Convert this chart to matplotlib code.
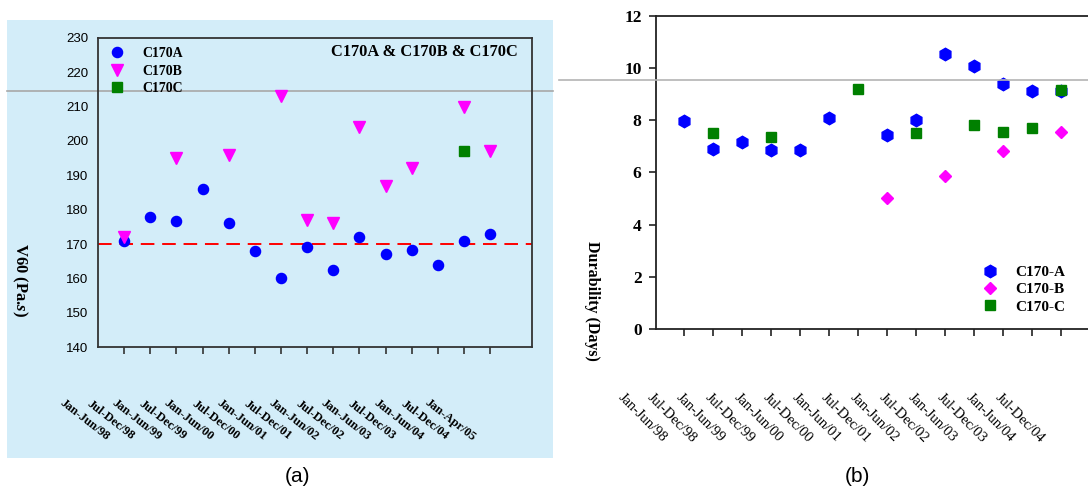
import numpy as np
import matplotlib
matplotlib.use("Agg")
import matplotlib.pyplot as plt
from matplotlib.patches import Rectangle
from matplotlib.lines import Line2D

# ------------------------------------------------------------------
# data, panel (a): V60 viscosity per semester
# ------------------------------------------------------------------
periods_a = ['Jan-Jun/98', 'Jul-Dec/98', 'Jan-Jun/99', 'Jul-Dec/99', 'Jan-Jun/00',
             'Jul-Dec/00', 'Jan-Jun/01', 'Jul-Dec/01', 'Jan-Jun/02', 'Jul-Dec/02',
             'Jan-Jun/03', 'Jul-Dec/03', 'Jan-Jun/04', 'Jul-Dec/04', 'Jan-Apr/05']
v60_A = [171, 178, 176.8, 186, 176, 168, 160, 169, 162.5, 172, 167, 168.2, 163.8, 171, 172.8]
v60_B = [172, None, 195, None, 196, None, 213, 177, 176, 204, 187, 192, None, 210, 197]
v60_C = [None] * 13 + [197, None]
v60_spec = 170

# ------------------------------------------------------------------
# data, panel (b): durability in days
# ------------------------------------------------------------------
periods_b = ['Jan-Jun/98', 'Jul-Dec/98', 'Jan-Jun/99', 'Jul-Dec/99', 'Jan-Jun/00',
             'Jul-Dec/00', 'Jan-Jun/01', 'Jul-Dec/01', 'Jan-Jun/02', 'Jul-Dec/02',
             'Jan-Jun/03', 'Jul-Dec/03', 'Jan-Jun/04', 'Jul-Dec/04']
dur_A = [7.95, 6.9, 7.15, 6.85, 6.87, 8.1, None, 7.42, 8.0, 10.52, 10.07, 9.4, 9.13, 9.1]
dur_B = [None, None, None, None, None, None, None, 5.0, None, 5.87, None, 6.83, None, 7.55]
dur_C = [None, 7.5, None, 7.35, None, None, 9.18, None, 7.5, None, 7.82, 7.55, 7.7, 9.17]


def to_arr(vals):
    return np.array([np.nan if v is None else v for v in vals], dtype=float)


serif = 'Liberation Serif'
sans = 'Liberation Sans'
plt.rcParams['mathtext.fontset'] = 'custom'
plt.rcParams['mathtext.it'] = 'Liberation Serif:italic:bold'
plt.rcParams['mathtext.rm'] = 'Liberation Serif:bold'

fig = plt.figure(figsize=(10.88, 4.9), dpi=100)

# light blue backdrop behind panel (a)
fig.patches.append(Rectangle((7 / 1088, 1 - 458 / 490), 546 / 1088, 438 / 490,
                             transform=fig.transFigure, facecolor='#d3edf9',
                             edgecolor='none', zorder=-10))

# ------------------------------------------------------------------
# panel (a)
# ------------------------------------------------------------------
axa = fig.add_axes([98 / 1088, 1 - 347 / 490, 434 / 1088, 309 / 490])
axa.set_facecolor('none')
axa.set_zorder(2)
xa = np.arange(1, len(periods_a) + 1)

axa.plot(xa, to_arr(v60_A), 'o', color='#0000ff', markersize=7.3, linestyle='none', label='C170A')
axa.plot(xa, to_arr(v60_B), 'v', color='#ff00ff', markersize=8.5, linestyle='none', label='C170B')
axa.plot(xa, to_arr(v60_C), 's', color='#008000', markersize=7.5, linestyle='none', label='C170C')
axa.axhline(v60_spec, color='#ff0000', linestyle=(0, (7, 4)), lw=1.4, zorder=1)

axa.set_xlim(0, 16.6)
axa.set_ylim(140, 230)
axa.set_yticks(np.arange(140, 231, 10))
axa.set_xticks(xa)
axa.set_xticklabels([])
axa.tick_params(axis='x', direction='out', length=5, width=1.2, color='#333333')
axa.tick_params(axis='y', length=0, pad=7, labelsize=9.5)
for lab in axa.get_yticklabels():
    lab.set_fontfamily(sans)
for sp in axa.spines.values():
    sp.set_color('#333333')
    sp.set_linewidth(1.3)

for i, lab in enumerate(periods_a):
    axa.annotate(lab, xy=(xa[i], 0), xycoords=('data', 'axes fraction'),
                 xytext=(-28.5, -52.5), textcoords='offset points',
                 rotation=-38, rotation_mode='anchor', ha='center', va='center',
                 fontsize=9, fontweight='bold', family=serif)

axa.text(0.967, 0.955, 'C170A & C170B & C170C', transform=axa.transAxes,
         ha='right', va='center', fontsize=11.8, fontweight='bold', family=serif)

axa.legend(loc='upper left', bbox_to_anchor=(0.02, 0.971), frameon=False,
           borderpad=0, borderaxespad=0, handlelength=1.5, handletextpad=1.1,
           labelspacing=0.33, numpoints=1,
           prop={'family': serif, 'weight': 'bold', 'size': 10})

fig.text(20 / 1088, 1 - 280 / 490, 'V60 (Pa.$\\it{s}$)', rotation=270,
         ha='center', va='center', fontsize=12, fontweight='bold', family=serif)

# ------------------------------------------------------------------
# panel (b)
# ------------------------------------------------------------------
axb = fig.add_axes([655.5 / 1088, 1 - 329 / 490, 434 / 1088, 313.3 / 490])
axb.set_facecolor('none')
xb = np.arange(1, len(periods_b) + 1)

axb.plot(xb, to_arr(dur_A), 'h', color='#0000ff', markersize=9, linestyle='none', label='C170-A')
axb.plot(xb, to_arr(dur_B), 'D', color='#ff00ff', markersize=6.5, linestyle='none', label='C170-B')
axb.plot(xb, to_arr(dur_C), 's', color='#008000', markersize=7.5, linestyle='none', label='C170-C')

axb.set_xlim(0, 14.98)
axb.set_ylim(0, 12)
axb.set_yticks(np.arange(0, 13, 2))
axb.set_xticks(xb)
axb.set_xticklabels([])
axb.tick_params(axis='both', direction='out', length=5, width=1.2, color='#222222')
axb.tick_params(axis='y', pad=5, labelsize=12.5)
for lab in axb.get_yticklabels():
    lab.set_fontfamily(serif)
    lab.set_fontweight('bold')
axb.spines['right'].set_visible(False)
for sp in ['left', 'top', 'bottom']:
    axb.spines[sp].set_color('#222222')
    axb.spines[sp].set_linewidth(1.3)

for i, lab in enumerate(periods_b):
    axb.annotate(lab, xy=(xb[i], 0), xycoords=('data', 'axes fraction'),
                 xytext=(-30, -64), textcoords='offset points',
                 rotation=-45, rotation_mode='anchor', ha='center', va='center',
                 fontsize=10.5, family=serif)

axb.legend(loc='upper left', bbox_to_anchor=(0.745, 0.203), frameon=False,
           borderpad=0, borderaxespad=0, handlelength=1.5, handletextpad=0.88,
           labelspacing=0.24, numpoints=1,
           prop={'family': serif, 'weight': 'bold', 'size': 11})

fig.text(592 / 1088, 1 - 301 / 490, 'Durability (Days)', rotation=270,
         ha='center', va='center', fontsize=11.5, fontweight='bold', family=serif)

# stray grey rules running across both panels
fig.add_artist(Line2D([7 / 1088, 553 / 1088], [1 - 91.5 / 490] * 2, color='#a8a8a8', lw=1.2))
fig.add_artist(Line2D([559 / 1088, 1.0], [1 - 80 / 490] * 2, color='#b4b4b4', lw=1.2))

# captions
fig.text(297 / 1088, 1 - 476 / 490, '(a)', ha='center', va='center', fontsize=15, family=sans)
fig.text(857 / 1088, 1 - 476 / 490, '(b)', ha='center', va='center', fontsize=15, family=sans)

fig.savefig('out.png', dpi=100)
